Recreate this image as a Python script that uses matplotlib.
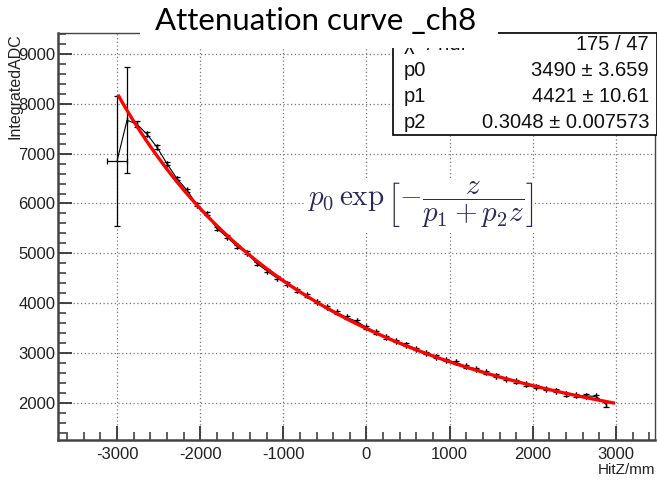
import numpy as np
import matplotlib
matplotlib.use("Agg")
import matplotlib.pyplot as plt
from matplotlib.patches import Rectangle

plt.rcParams['font.family'] = ['Liberation Sans', 'DejaVu Sans']
plt.rcParams['axes.unicode_minus'] = False

# data
hitz = np.arange(-3000, 2881, 120)
adc = [6850, 7670, 7590, 7390, 7130, 6800, 6500, 6270, 5975, 5790,
       5500, 5330, 5140, 5010, 4800, 4650, 4510, 4390, 4255, 4155,
       4025, 3920, 3815, 3715, 3635, 3515, 3415, 3315, 3235, 3170,
       3080, 3000, 2930, 2855, 2810, 2730, 2680, 2610, 2545, 2482,
       2432, 2370, 2322, 2276, 2245, 2170, 2150, 2140, 2130, 1975]
adc_err = [1300, 1065, 60, 45, 40, 35, 35, 30, 30, 30,
           30, 30, 28, 28, 28, 26, 26, 25, 25, 25,
           25, 25, 24, 24, 24, 24, 24, 24, 24, 24,
           24, 24, 24, 24, 24, 24, 25, 25, 25, 25,
           26, 26, 27, 27, 28, 28, 30, 30, 32, 50]
hitz_err = [120] + [0] * 49

# fit parameters shown in the stats box
p0, p1, p2 = 3490, 4421, 0.3048
stat_names = ["\u03c7\u00b2 / ndf", "p0", "p1", "p2"]
stat_values = ["175 / 47", "3490 \u00b1 3.659", "4421 \u00b1 10.61", "0.3048 \u00b1 0.007573"]

W, H = 657, 480
fig = plt.figure(figsize=(W / 100, H / 100), dpi=100)
ax = fig.add_axes([58 / W, 40 / H, (655 - 58) / W, (440 - 33) / H])

ax.errorbar(hitz, adc, yerr=adc_err, xerr=hitz_err, fmt='-', color='black',
            lw=0.8, elinewidth=0.9, capsize=2, capthick=0.9, zorder=3)

zz = np.linspace(-2980, 2970, 300)
ax.plot(zz, p0 * np.exp(-zz / (p1 + p2 * zz)), color='red', lw=2.4, zorder=4)

ax.set_xlim(-3710, 3470)
ax.set_ylim(1255, 9420)
ax.set_xticks(np.arange(-3000, 3001, 1000))
ax.set_xticks(np.arange(-3600, 3401, 200), minor=True)
ax.set_yticks(np.arange(2000, 9001, 1000))
ax.set_yticks(np.arange(1400, 9401, 200), minor=True)
ax.tick_params(which='both', direction='in', top=False, right=False, colors='#333333',
               labelsize=12, labelcolor='#222222')
ax.tick_params(which='major', length=10, width=1.3)
ax.tick_params(which='minor', length=6, width=1.1)
ax.tick_params(axis='x', pad=5)
ax.tick_params(axis='y', pad=2)
ax.grid(which='major', ls=(0, (1, 2)), color='#777777', lw=0.9)
for s in ['left', 'bottom']:
    ax.spines[s].set_linewidth(1.8)
    ax.spines[s].set_color('#444444')
for s in ['top', 'right']:
    ax.spines[s].set_linewidth(1.0)
    ax.spines[s].set_color('#444444')

fig.text(15 / W, 1 - 33 / H, "IntegratedADC", rotation=90, ha='center', va='top',
         fontsize=11.5, color='#222222')
fig.text(655 / W, 1 - 470 / H, "HitZ/mm", ha='right', va='center',
         fontsize=11, color='#222222')

# formula
fig.text(420 / W, 1 - 205 / H, r'$p_0\,\exp\left[-\dfrac{z}{p_1+p_2 z}\right]$',
         ha='center', va='center', fontsize=21, color='#2a2a55',
         math_fontfamily='cm',
         bbox=dict(facecolor='white', edgecolor='none', pad=1))

# stats box
fig.patches.append(Rectangle((393 / W, 1 - 135 / H), (W - 393) / W, 102 / H,
                             transform=fig.transFigure, facecolor='white',
                             edgecolor='black', lw=1.2, zorder=3))
rows_y = [45, 70, 96, 122]
for name, val, y in zip(stat_names, stat_values, rows_y):
    fig.text(404 / W, 1 - y / H, name, ha='left', va='center', fontsize=14.5,
             color='#111111', zorder=4)
    fig.text(649 / W, 1 - y / H, val, ha='right', va='center', fontsize=14.5,
             color='#111111', zorder=4)

# title on white box
fig.patches.append(Rectangle((140 / W, 1 - 48 / H), (498 - 140) / W, 48 / H,
                             transform=fig.transFigure, facecolor='white',
                             edgecolor='none', zorder=6))
fig.text(316 / W, 1 - 21 / H, "Attenuation curve _ch8", ha='center', va='center',
         fontsize=22.5, family=['Lato', 'DejaVu Sans'], color='black', zorder=7)

fig.savefig("out.png", dpi=100)
